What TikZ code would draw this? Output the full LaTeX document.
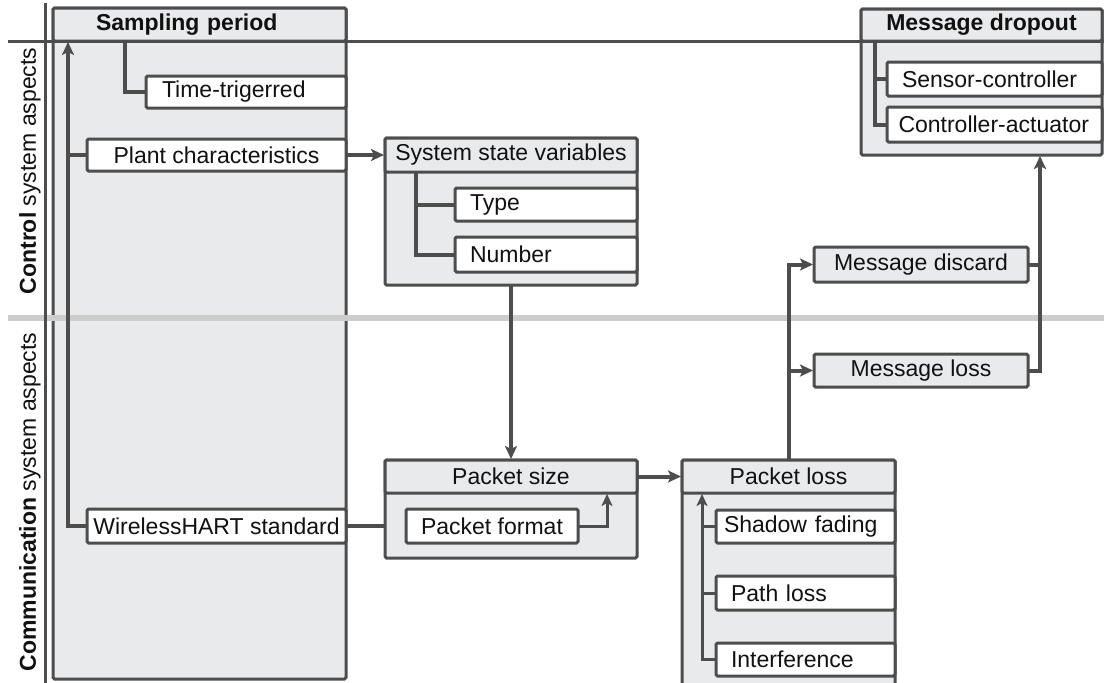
\documentclass[tikz,border=0pt]{standalone}
\usepackage{fontspec}
\setmainfont{Liberation Sans}
\usetikzlibrary{arrows.meta}
\definecolor{dk}{HTML}{4D4D4D}
\definecolor{bg}{HTML}{E9EAEC}
\definecolor{sepgray}{HTML}{CDCDCD}
\definecolor{ink}{HTML}{111111}
\newcommand{\dgfont}{\fontsize{23}{27}\selectfont}
\begin{document}
\begin{tikzpicture}[x=1pt,y=-1pt,
  every node/.style={font=\dgfont, text=ink},
  box/.style={draw=dk, line width=3pt, rounded corners=1.5pt, inner sep=0pt,
              outer sep=0pt, anchor=north west},
  cont/.style={box, fill=bg},
  leaf/.style={box, fill=white},
  lpad/.style={align=left, inner xsep=#1},
  conn/.style={draw=dk, line width=4pt},
  arr/.style={conn, shorten >=1pt, -{Stealth[length=13pt,width=12pt,inset=3pt]}},
  thinconn/.style={draw=dk, line width=3pt},
  tarr/.style={thinconn, shorten >=1pt, -{Stealth[length=12pt,width=11pt,inset=3pt]}}
]
\fill[white] (0,0) rectangle (1104,683);
\useasboundingbox (0,0) rectangle (1104,683);

% side labels
\node[rotate=90] (lblctl) at (30,171) {\textbf{Control} system aspects};
\node[rotate=90] (lblcom) at (30,502) {\textbf{Communication} system aspects};

% containers
\node[cont, minimum width=293pt, minimum height=671pt] (samp) at (53,8) {};
\node[cont, minimum width=293pt, minimum height=33pt, font=\dgfont\bfseries,
      lpad=43pt, text width=207pt] (sampH) at (53,8) {Sampling period};
\node[cont, minimum width=252pt, minimum height=147pt] (ssv) at (385,138) {};
\node[cont, minimum width=252pt, minimum height=34pt] (ssvH) at (385,138) {System state variables};
\node[cont, minimum width=252pt, minimum height=98pt] (psize) at (385,460) {};
\node[cont, minimum width=252pt, minimum height=33pt] (psizeH) at (385,460) {Packet size};
\node[cont, minimum width=213pt, minimum height=240pt] (ploss) at (682,460) {};
\node[cont, minimum width=213pt, minimum height=33pt] (plossH) at (682,460) {Packet loss};
\node[cont, minimum width=241pt, minimum height=146pt] (mdrop) at (861,9) {};
\node[cont, minimum width=241pt, minimum height=32pt, font=\dgfont\bfseries] (mdropH) at (861,9) {Message dropout};

% leaves
\node[leaf, minimum width=200pt, minimum height=32pt, lpad=16pt, text width=168pt] (timetrig) at (146,76) {Time-trigerred};
\node[leaf, minimum width=259pt, minimum height=32pt] (plant) at (87,139) {Plant characteristics};
\node[leaf, minimum width=259pt, minimum height=34pt] (wh) at (87,509) {WirelessHART standard};
\node[leaf, minimum width=182pt, minimum height=33pt, lpad=15pt, text width=152pt] (type) at (455,188) {Type};
\node[leaf, minimum width=182pt, minimum height=35pt, lpad=15pt, text width=152pt] (number) at (455,237) {Number};
\node[leaf, minimum width=172pt, minimum height=34pt] (pformat) at (406,509) {Packet format};
\node[leaf, minimum width=179pt, minimum height=33pt, lpad=8pt, text width=163pt] (shadow) at (716,510) {Shadow fading};
\node[leaf, minimum width=179pt, minimum height=34pt, lpad=15pt, text width=149pt] (ptl) at (716,576) {Path loss};
\node[leaf, minimum width=179pt, minimum height=33pt, lpad=15pt, text width=149pt] (interf) at (716,643) {Interference};
\node[leaf, minimum width=215pt, minimum height=34pt, lpad=15pt, text width=185pt] (sensor) at (887,62) {Sensor-controller};
\node[leaf, minimum width=215pt, minimum height=35pt, lpad=11.5pt, text width=192pt] (ctrlact) at (887,107) {Controller-actuator};
\node[cont, minimum width=214pt, minimum height=35pt] (mdisc) at (814,247) {Message discard};
\node[cont, minimum width=214pt, minimum height=33pt] (mloss) at (814,354) {Message loss};

% section separators
\draw[sepgray, line width=6pt] (8,318) -- (1104,318);
\draw[dk, line width=3pt] (8,41) -- (1104,41);
\draw[dk, line width=3pt] (45,3) -- (45,683);

% sampling period
\coordinate (sampIn) at (68,41);
\draw[arr] (wh.west) -| (sampIn);
\draw[conn] (plant.west) -- (plant.west -| sampIn);
\draw[conn] ([xshift=72pt]sampH.south west) |- (timetrig.west);
\draw[arr] (plant.east) -- (ssvH.west);

% system state variables
\draw[conn] ([xshift=31pt]ssvH.south west) |- (number.west);
\draw[conn] ([xshift=31pt]ssvH.south west) |- (type.west);
\draw[arr] (ssv.south) -- (psizeH.north);

% packet size
\draw[conn] (wh.east) -- (wh.east -| psize.west);
\coordinate (pfIn) at (607,493);
\draw[tarr] (pformat.east) -| (pfIn);
\draw[arr] (psizeH.east) -- (plossH.west);

% packet loss
\coordinate (plIn) at (702,493);
\draw[tarr] (interf.west) -| (plIn);
\draw[thinconn] (shadow.west) -- (shadow.west -| plIn);
\draw[thinconn] (ptl.west) -- (ptl.west -| plIn);
\draw[arr] (plossH.north) |- (mdisc.west);
\draw[arr] (plossH.north |- mloss.west) -- (mloss.west);

% message dropout
\coordinate (mdIn) at (1040,155);
\draw[arr] (mloss.east) -| (mdIn);
\draw[conn] (mdisc.east) -- (mdisc.east -| mdIn);
\draw[conn] ([xshift=14pt]mdropH.south west) |- (ctrlact.west);
\draw[conn] ([xshift=14pt]mdropH.south west) |- (sensor.west);
\end{tikzpicture}
\end{document}
